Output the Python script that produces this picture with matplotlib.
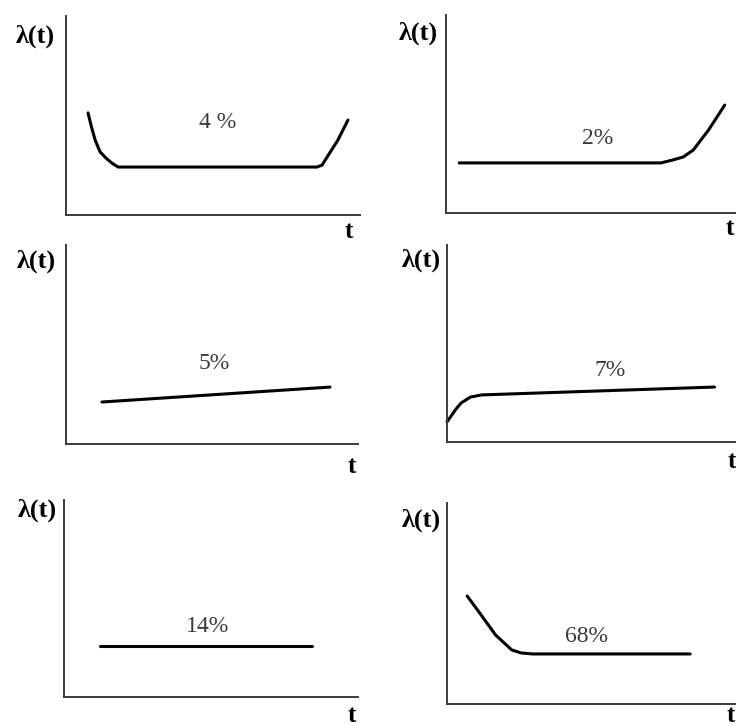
import matplotlib
matplotlib.use("Agg")
import matplotlib.pyplot as plt

W, H = 736, 726

# ---- data (t and lambda in arbitrary units 0..100 of each panel) ----
labels = ["4 %", "2%", "5%", "7%", "14%", "68%"]

p1_t   = [7.5, 8.5, 9.9, 11.6, 13.6, 15.6, 17.7, 85.4, 87.1, 88.8, 92.5, 95.9]
p1_lam = [51.3, 45.2, 37.7, 31.7, 28.6, 26.1, 24.1, 24.1, 25.1, 29.1, 37.7, 47.7]

p2_t   = [4.5, 73.1, 77.2, 80.7, 84.1, 89.3, 94.8]
p2_lam = [25.3, 25.3, 26.8, 28.3, 31.8, 41.9, 54.5]

p3_t   = [12.3, 90.4]
p3_lam = [21.1, 28.6]

p4_t   = [0.0, 2.8, 4.8, 8.0, 11.8, 91.3]
p4_lam = [10.2, 16.2, 19.8, 22.8, 23.9, 27.9]

p5_t   = [12.2, 84.4]
p5_lam = [25.9, 25.9]

p6_t   = [6.9, 11.4, 16.6, 22.1, 25.3, 29.1, 83.0]
p6_lam = [53.7, 44.8, 34.3, 26.9, 25.4, 24.9, 24.9]

curves = [(p1_t, p1_lam), (p2_t, p2_lam), (p3_t, p3_lam),
          (p4_t, p4_lam), (p5_t, p5_lam), (p6_t, p6_lam)]

# ---- layout (pixels) ----
# axes box: left, right, bottom, top
boxes = [(66, 360, 215, 16), (446, 740, 213, 15),
         (66, 358, 444, 245), (447, 740, 442, 245),
         (64, 358, 697, 500), (447, 740, 704, 503)]
lam_pos = [(35, 36), (418, 33), (36, 261), (421, 260), (37, 510), (421, 520)]
t_pos = [(349, 232), (730, 228), (352, 466), (732, 461), (352, 715), (731, 716)]
pct_pos = [(218, 123), (598, 138), (214, 364), (610, 370), (208, 627), (586, 637)]

fig = plt.figure(figsize=(W / 100, H / 100), dpi=100)
fig.patch.set_facecolor("white")

serif = ["Liberation Serif", "DejaVu Serif"]

for i in range(6):
    l, r, b, t = boxes[i]
    ax = fig.add_axes([l / W, 1 - b / H, (r - l) / W, (b - t) / H])
    ax.set_xlim(0, 100)
    ax.set_ylim(0, 100)
    ax.set_facecolor("none")
    for s in ("top", "right"):
        ax.spines[s].set_visible(False)
    for s in ("left", "bottom"):
        ax.spines[s].set_color("#3c3c3c")
        ax.spines[s].set_linewidth(1.4)
    ax.set_xticks([])
    ax.set_yticks([])
    xs, ys = curves[i]
    ax.plot(xs, ys, color="black", lw=2.2, solid_capstyle="round",
            solid_joinstyle="round", clip_on=False)
    px, py = pct_pos[i]
    fig.text(px / W, 1 - py / H, labels[i], family=serif, fontsize=17,
             color="#3a3a3a", ha="center", va="center")
    lx, ly = lam_pos[i]
    fig.text(lx / W, 1 - ly / H, "λ(t)", family=serif, fontsize=19,
             fontweight="bold", color="black", ha="center", va="center")
    tx, ty = t_pos[i]
    fig.text(tx / W, 1 - ty / H, "t", family=serif, fontsize=18,
             fontweight="bold", color="black", ha="center", va="center")

fig.savefig("out.png", dpi=100, facecolor="white")
